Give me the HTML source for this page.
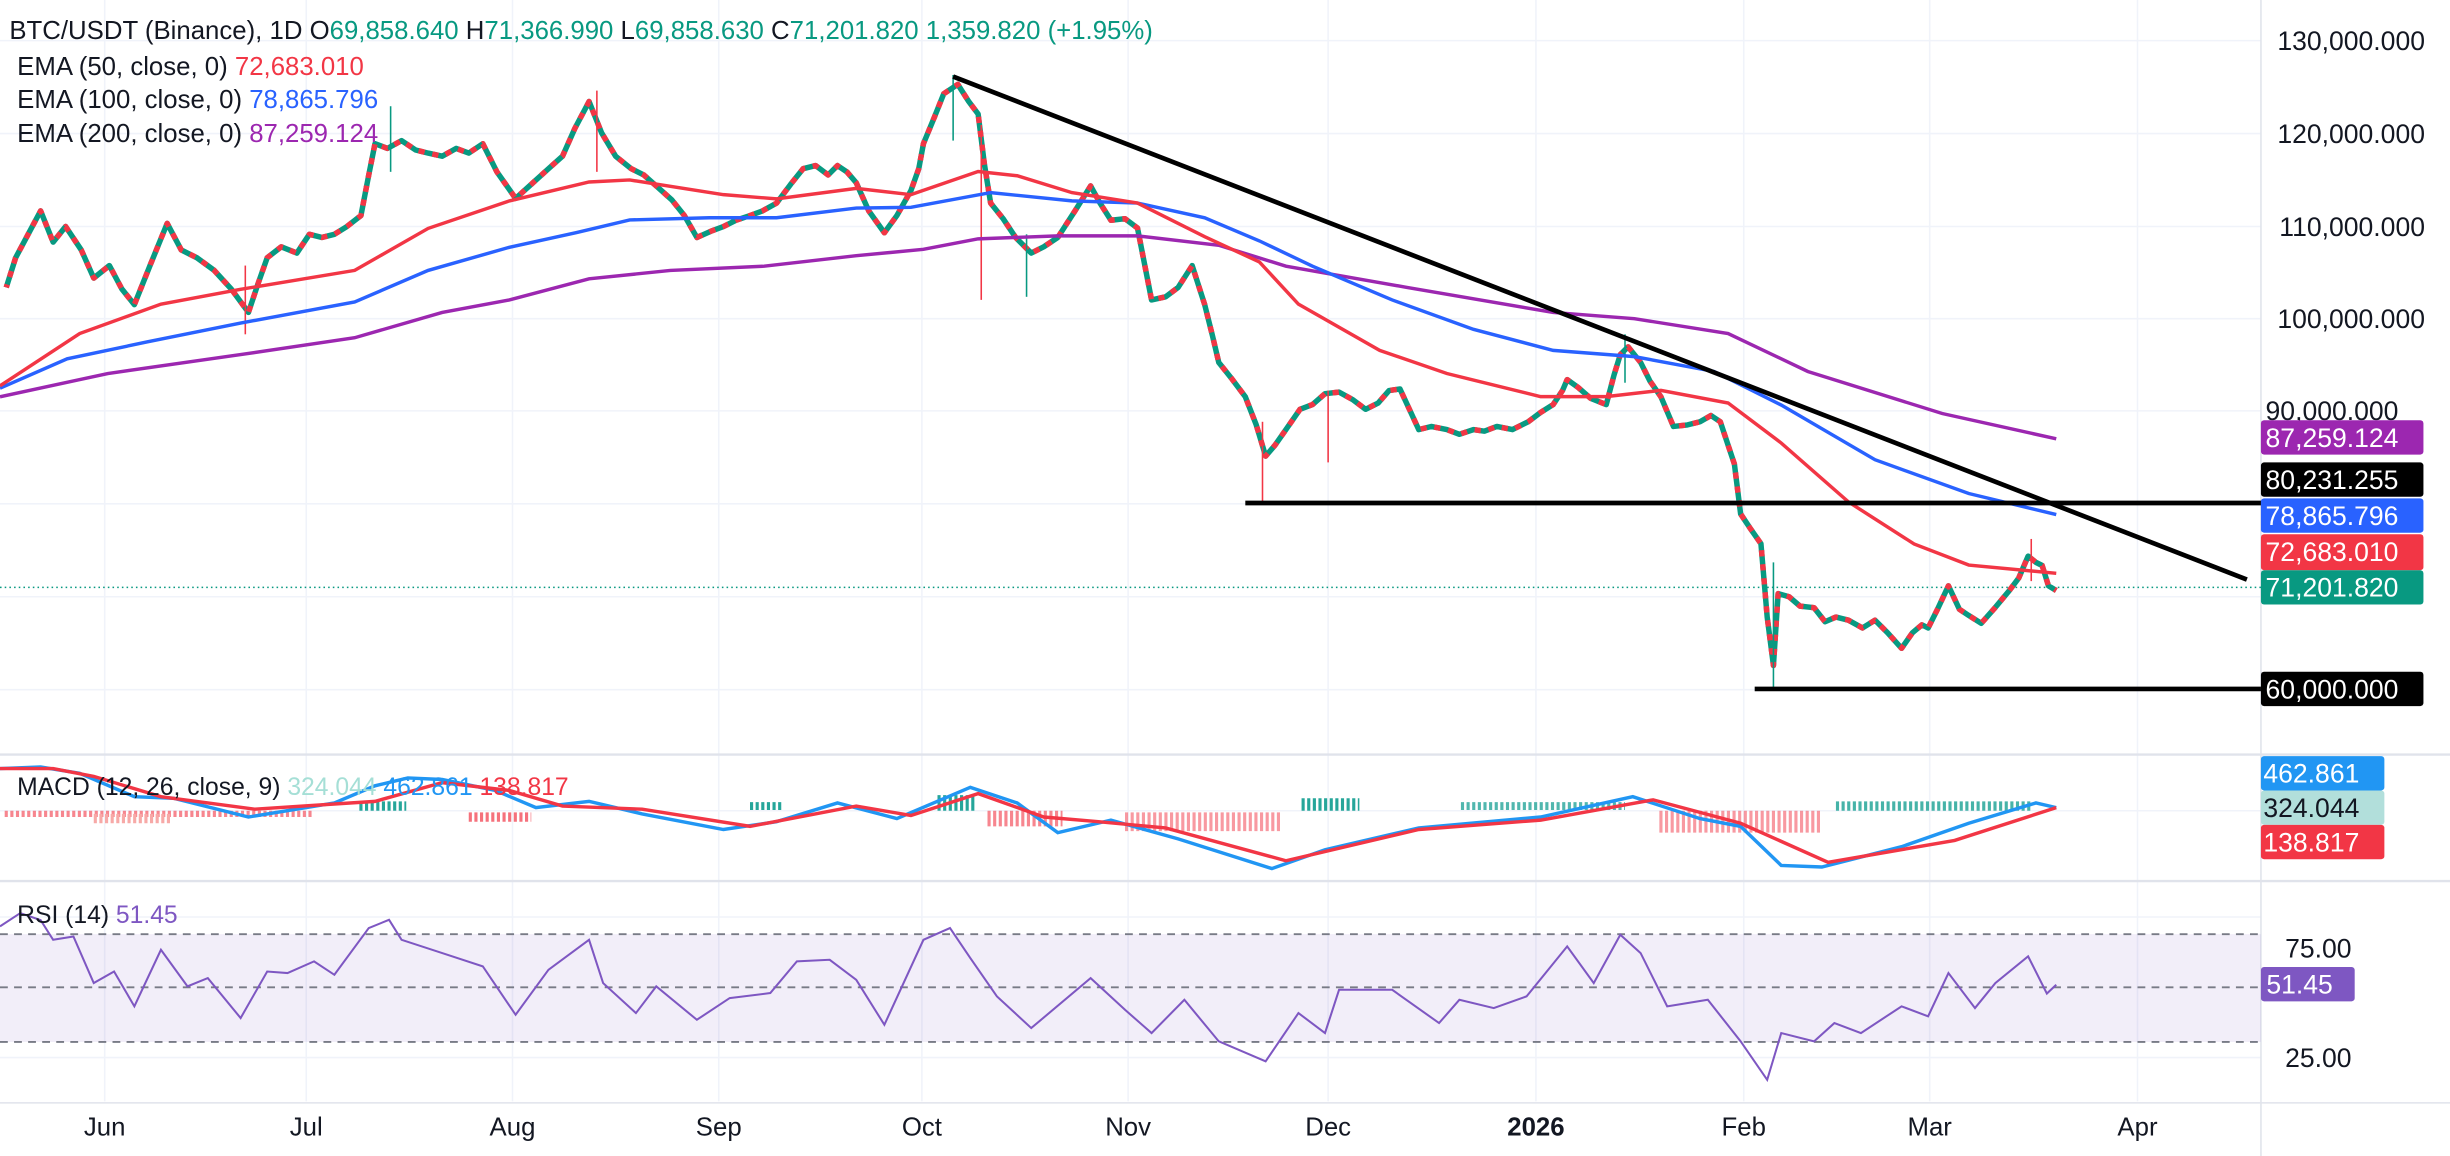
<!DOCTYPE html>
<html><head><meta charset="utf-8"><style>
html,body{margin:0;padding:0;background:#fff;}
svg{display:block;font-family:"Liberation Sans",sans-serif;}
</style></head><body>
<svg width="2450" height="1156" viewBox="0 0 1568 740" preserveAspectRatio="none" xmlns="http://www.w3.org/2000/svg">
<rect width="1568" height="740" fill="#fff"/>
<g stroke="#f0f3fa" stroke-width="1">
<line x1="67" y1="0" x2="67" y2="705"/><line x1="196" y1="0" x2="196" y2="705"/><line x1="328" y1="0" x2="328" y2="705"/><line x1="460" y1="0" x2="460" y2="705"/><line x1="590" y1="0" x2="590" y2="705"/><line x1="722" y1="0" x2="722" y2="705"/><line x1="850" y1="0" x2="850" y2="705"/><line x1="983" y1="0" x2="983" y2="705"/><line x1="1116" y1="0" x2="1116" y2="705"/><line x1="1235" y1="0" x2="1235" y2="705"/><line x1="1368" y1="0" x2="1368" y2="705"/>
<line x1="0" y1="26" x2="1447" y2="26"/><line x1="0" y1="85.5" x2="1447" y2="85.5"/><line x1="0" y1="145" x2="1447" y2="145"/><line x1="0" y1="204" x2="1447" y2="204"/><line x1="0" y1="263" x2="1447" y2="263"/><line x1="0" y1="322.5" x2="1447" y2="322.5"/><line x1="0" y1="382" x2="1447" y2="382"/><line x1="0" y1="441.5" x2="1447" y2="441.5"/>
<line x1="0" y1="519" x2="1447" y2="519"/><line x1="0" y1="587" x2="1447" y2="587"/><line x1="0" y1="677" x2="1447" y2="677"/>
</g>
<line x1="0" y1="483" x2="1568" y2="483" stroke="#e0e3eb" stroke-width="1.5"/>
<line x1="0" y1="564" x2="1568" y2="564" stroke="#e0e3eb" stroke-width="1.5"/>
<line x1="0" y1="706" x2="1568" y2="706" stroke="#e0e3eb"/>
<line x1="1447" y1="0" x2="1447" y2="740" stroke="#e0e3eb"/>
<rect x="0" y="598" width="1447" height="69" fill="#7e57c2" fill-opacity="0.1"/>
<g stroke="#787b86" stroke-dasharray="5,4" stroke-width="1.2">
<line x1="0" y1="598" x2="1447" y2="598"/><line x1="0" y1="632" x2="1447" y2="632"/><line x1="0" y1="667" x2="1447" y2="667"/>
</g>
<line x1="0" y1="376" x2="1447" y2="376" stroke="#089981" stroke-dasharray="1,2"/>

<!-- price approximation -->
<g fill="none" stroke-width="3.5" stroke-linejoin="round">
<path id="pp" d="M4,184 L10,165 L18,150 L26,135 L34,155 L42,145 L52,160 L60,178 L70,170 L78,185 L86,195 L96,170 L107,143 L116,160 L126,165 L137,173 L148,185 L159,200 L165,182 L171,165 L180,158 L190,162 L198,150 L206,152 L214,150 L222,145 L231,138 L236,112 L240,92 L248,95 L257,90 L266,96 L274,98 L283,100 L292,95 L300,98 L309,92 L318,110 L330,127 L340,118 L351,108 L360,100 L368,82 L377,65 L385,85 L394,100 L404,108 L412,112 L420,119 L430,128 L438,138 L446,152 L455,148 L463,145 L471,141 L480,138 L488,135 L497,130 L506,118 L514,108 L522,106 L530,112 L536,106 L542,110 L548,117 L556,135 L566,149 L574,138 L583,122 L588,108 L591,92 L598,75 L604,60 L613,54 L620,65 L626,73 L630,105 L634,130 L642,140 L650,152 L660,162 L668,158 L677,152 L688,135 L698,119 L704,130 L711,141 L720,140 L728,146 L737,192 L746,190 L754,184 L763,170 L771,195 L776,215 L780,232 L788,242 L797,254 L804,272 L810,292 L816,285 L823,275 L832,262 L840,259 L848,252 L857,251 L866,256 L874,262 L882,258 L889,250 L896,249 L902,262 L908,275 L916,273 L926,275 L934,278 L943,275 L950,276 L958,273 L968,275 L978,270 L986,264 L994,259 L1000,250 L1003,243 L1010,248 L1018,255 L1028,259 L1033,240 L1037,227 L1042,222 L1050,232 L1056,244 L1063,254 L1071,273 L1080,272 L1088,270 L1095,266 L1101,270 L1106,285 L1110,297 L1114,329 L1120,338 L1127,348 L1131,395 L1135,426 L1138,380 L1145,382 L1152,388 L1161,389 L1168,398 L1175,395 L1183,397 L1192,402 L1200,397 L1208,405 L1217,415 L1224,405 L1230,400 L1234,402 L1240,390 L1247,375 L1254,390 L1260,394 L1268,399 L1276,390 L1286,378 L1292,370 L1298,356 L1303,360 L1307,362 L1311,375 L1316,378" stroke="#089981"/>
<path d="M4,184 L10,165 L18,150 L26,135 L34,155 L42,145 L52,160 L60,178 L70,170 L78,185 L86,195 L96,170 L107,143 L116,160 L126,165 L137,173 L148,185 L159,200 L165,182 L171,165 L180,158 L190,162 L198,150 L206,152 L214,150 L222,145 L231,138 L236,112 L240,92 L248,95 L257,90 L266,96 L274,98 L283,100 L292,95 L300,98 L309,92 L318,110 L330,127 L340,118 L351,108 L360,100 L368,82 L377,65 L385,85 L394,100 L404,108 L412,112 L420,119 L430,128 L438,138 L446,152 L455,148 L463,145 L471,141 L480,138 L488,135 L497,130 L506,118 L514,108 L522,106 L530,112 L536,106 L542,110 L548,117 L556,135 L566,149 L574,138 L583,122 L588,108 L591,92 L598,75 L604,60 L613,54 L620,65 L626,73 L630,105 L634,130 L642,140 L650,152 L660,162 L668,158 L677,152 L688,135 L698,119 L704,130 L711,141 L720,140 L728,146 L737,192 L746,190 L754,184 L763,170 L771,195 L776,215 L780,232 L788,242 L797,254 L804,272 L810,292 L816,285 L823,275 L832,262 L840,259 L848,252 L857,251 L866,256 L874,262 L882,258 L889,250 L896,249 L902,262 L908,275 L916,273 L926,275 L934,278 L943,275 L950,276 L958,273 L968,275 L978,270 L986,264 L994,259 L1000,250 L1003,243 L1010,248 L1018,255 L1028,259 L1033,240 L1037,227 L1042,222 L1050,232 L1056,244 L1063,254 L1071,273 L1080,272 L1088,270 L1095,266 L1101,270 L1106,285 L1110,297 L1114,329 L1120,338 L1127,348 L1131,395 L1135,426 L1138,380 L1145,382 L1152,388 L1161,389 L1168,398 L1175,395 L1183,397 L1192,402 L1200,397 L1208,405 L1217,415 L1224,405 L1230,400 L1234,402 L1240,390 L1247,375 L1254,390 L1260,394 L1268,399 L1276,390 L1286,378 L1292,370 L1298,356 L1303,360 L1307,362 L1311,375 L1316,378" stroke="#f23645" stroke-dasharray="4,5" stroke-dashoffset="2"/>
</g>
<g stroke-width="1">
<line x1="628" y1="80" x2="628" y2="192" stroke="#f23645"/>
<line x1="1135" y1="360" x2="1135" y2="441" stroke="#089981"/>
<line x1="610" y1="48" x2="610" y2="90" stroke="#089981"/>
<line x1="808" y1="270" x2="808" y2="322" stroke="#f23645"/>
<line x1="157" y1="170" x2="157" y2="214" stroke="#f23645"/>
<line x1="382" y1="58" x2="382" y2="110" stroke="#f23645"/>
<line x1="250" y1="68" x2="250" y2="110" stroke="#089981"/>
<line x1="657" y1="150" x2="657" y2="190" stroke="#089981"/>
<line x1="850" y1="250" x2="850" y2="296" stroke="#f23645"/>
<line x1="1040" y1="214" x2="1040" y2="245" stroke="#089981"/>
<line x1="1300" y1="345" x2="1300" y2="372" stroke="#f23645"/>
</g>

<!-- EMAs -->
<path d="M0,254 L69,239.1 L154,227 L227,216.2 L283,200 L326,192 L377,178.5 L429,173.1 L489,170.4 L548,163.7 L591,159.6 L626,152.9 L677,151 L728,151 L780,157 L823,170.4 L900,183.9 L994,200 L1046,204 L1106,213.5 L1157,237.8 L1243,264.7 L1316,280.9" fill="none" stroke="#9c27b0" stroke-width="2.2"/>
<path d="M0,248.5 L43,229.7 L94,218.9 L154,206.8 L227,193.3 L274,173.1 L326,158.3 L369,148.9 L403,140.8 L454,139.4 L497,139.4 L548,133.2 L583,132.7 L634,123.3 L686,128.6 L728,130 L771,139.4 L806,154.2 L840,170.4 L891,192 L943,210.8 L994,224.3 L1046,228.3 L1097,237.8 L1140,259.3 L1200,294.3 L1260,315.9 L1316,329.4" fill="none" stroke="#2962ff" stroke-width="2.2"/>
<path d="M0,247 L51,213.5 L103,194.7 L154,185.2 L227,173.1 L274,146.2 L326,128.6 L377,116.5 L403,115.2 L463,124.6 L497,127.3 L548,120.6 L583,124.6 L626,109.8 L651,112.5 L686,123.3 L728,130 L771,151.5 L806,167.7 L831,194.7 L883,224.3 L926,239.1 L986,253.9 L1028,253.9 L1063,249.9 L1106,258 L1140,283.6 L1183,321.3 L1225,348.2 L1260,361.7 L1316,367" fill="none" stroke="#f23645" stroke-width="2.2"/>

<g stroke="#000" stroke-width="3">
<line x1="610" y1="49" x2="1438" y2="371"/>
<line x1="797" y1="322" x2="1447" y2="322"/>
<line x1="1123" y1="441" x2="1447" y2="441"/>
</g>

<!-- MACD histogram -->
<g stroke-dasharray="2,1.6">
<path d="M3,521 L200,521" stroke="#f23645" stroke-width="4" opacity="0.6"/>
<path d="M60,524 L110,524" stroke="#f7a9a7" stroke-width="6"/>
<path d="M230,516 L260,516" stroke="#26a69a" stroke-width="6"/>
<path d="M300,523 L340,523" stroke="#f23645" stroke-width="6" opacity="0.7"/>
<path d="M480,516 L500,516" stroke="#26a69a" stroke-width="5"/>
<path d="M600,514 L625,514" stroke="#26a69a" stroke-width="10"/>
<path d="M632,524 L680,524" stroke="#f23645" stroke-width="10" opacity="0.6"/>
<path d="M720,526 L820,526" stroke="#f23645" stroke-width="12" opacity="0.5"/>
<path d="M833,515 L870,515" stroke="#26a69a" stroke-width="8"/>
<path d="M935,516 L1040,516" stroke="#26a69a" stroke-width="5" opacity="0.8"/>
<path d="M1062,526 L1165,526" stroke="#f23645" stroke-width="14" opacity="0.5"/>
<path d="M1175,516 L1300,516" stroke="#26a69a" stroke-width="6" opacity="0.85"/>
</g>
<path d="M0,492 L26,491 L51,495 L86,510 L111,511 L159,523 L214,514 L240,503 L261,498 L283,499 L317,506 L343,517 L377,513 L411,521 L463,531 L497,526 L536,514 L574,524 L621,504 L651,514 L677,533 L711,525 L754,537 L814,556 L848,544 L908,530 L986,523 L1045,510 L1088,524 L1114,529 L1140,554 L1166,555 L1217,542 L1260,527 L1303,514 L1316,517" fill="none" stroke="#2196f3" stroke-width="2.2"/>
<path d="M0,492 L34,492 L60,497 L103,510 L163,518 L240,513 L283,501 L326,506 L360,516 L411,518 L480,529 L548,516 L583,522 L626,508 L668,523 L703,526 L746,530 L823,551 L908,531 L986,525 L1058,512 L1114,527 L1170,552 L1251,538 L1316,517" fill="none" stroke="#f23645" stroke-width="2.2"/>

<!-- RSI -->
<path d="M0,593 L13,584.5 L26,589 L34,601.6 L47,599.5 L60,629.3 L73,621.9 L86,644.2 L103,608 L120,631.4 L133,626.1 L154,651.7 L171,621.9 L184,622.9 L201,615.4 L214,624 L236,594.1 L249,588.8 L257,601.6 L283,610.1 L309,618.6 L330,649.6 L351,620.8 L377,601.6 L386,629.3 L407,648.5 L420,631.4 L446,652.8 L467,638.9 L493,635.7 L510,615.4 L531,614.4 L548,627.2 L566,656 L591,601.6 L608,594.1 L621,613.3 L638,637.8 L660,658.1 L698,626.1 L720,646.4 L737,661.3 L758,640 L780,666.6 L810,679.4 L831,648.5 L848,661.3 L857,633.6 L891,633.6 L921,654.9 L934,640 L956,645.3 L977,637.8 L1003,605.8 L1020,629.3 L1037,598.4 L1050,610.1 L1067,644.2 L1093,640 L1114,666.6 L1131,691.2 L1140,661.3 L1161,666.6 L1174,654.9 L1191,661.3 L1217,644.2 L1234,650.6 L1247,622.9 L1264,645.3 L1277,629.3 L1298,612.2 L1310,636 L1316,630.4" fill="none" stroke="#7e57c2" stroke-width="1.3"/>

<g font-size="16.5" fill="#131722">
<text x="6" y="25">BTC/USDT (Binance), 1D  O<tspan fill="#089981">69,858.640</tspan>  H<tspan fill="#089981">71,366.990</tspan>  L<tspan fill="#089981">69,858.630</tspan>  C<tspan fill="#089981">71,201.820  1,359.820 (+1.95%)</tspan></text>
<text x="11" y="48">EMA (50, close, 0)  <tspan fill="#f23645">72,683.010</tspan></text>
<text x="11" y="69">EMA (100, close, 0)  <tspan fill="#2962ff">78,865.796</tspan></text>
<text x="11" y="91">EMA (200, close, 0)  <tspan fill="#9c27b0">87,259.124</tspan></text>
</g>
<g font-size="15.8" fill="#131722">
<text x="11" y="509">MACD (12, 26, close, 9)  <tspan fill="#a5dfd6">324.044</tspan>  <tspan fill="#2196f3">462.861</tspan>  <tspan fill="#f23645">138.817</tspan></text>
<text x="11" y="591">RSI (14)  <tspan fill="#7e57c2">51.45</tspan></text>
</g>
<g font-size="16.5" fill="#131722" text-anchor="middle">
<text x="67" y="727">Jun</text><text x="196" y="727">Jul</text><text x="328" y="727">Aug</text><text x="460" y="727">Sep</text><text x="590" y="727">Oct</text><text x="722" y="727">Nov</text><text x="850" y="727">Dec</text><text x="983" y="727" font-weight="bold">2026</text><text x="1116" y="727">Feb</text><text x="1235" y="727">Mar</text><text x="1368" y="727">Apr</text>
</g>
<g font-size="17" fill="#131722" text-anchor="end">
<text x="1552" y="32">130,000.000</text><text x="1552" y="91.5">120,000.000</text><text x="1552" y="151">110,000.000</text><text x="1552" y="210">100,000.000</text><text x="1535" y="269">90,000.000</text>
<text x="1505" y="613">75.00</text><text x="1505" y="683">25.00</text>
</g>
<g font-size="17" text-anchor="end" fill="#fff">
<rect x="1447" y="269" width="104" height="22" rx="2" fill="#9c27b0"/><text x="1535" y="286">87,259.124</text>
<rect x="1447" y="296" width="104" height="22" rx="2" fill="#000"/><text x="1535" y="313">80,231.255</text>
<rect x="1447" y="319" width="104" height="22" rx="2" fill="#2962ff"/><text x="1535" y="336">78,865.796</text>
<rect x="1447" y="342" width="104" height="23" rx="2" fill="#f23645"/><text x="1535" y="359">72,683.010</text>
<rect x="1447" y="365" width="104" height="22" rx="2" fill="#089981"/><text x="1535" y="382">71,201.820</text>
<rect x="1447" y="430" width="104" height="22" rx="2" fill="#000"/><text x="1535" y="447">60,000.000</text>
<rect x="1447" y="484" width="79" height="22" rx="2" fill="#2196f3"/><text x="1510" y="501">462.861</text>
<rect x="1447" y="506" width="79" height="22" rx="2" fill="#b2dfdb"/><text x="1510" y="523" fill="#131722">324.044</text>
<rect x="1447" y="528" width="79" height="22" rx="2" fill="#f23645"/><text x="1510" y="545">138.817</text>
<rect x="1447" y="619" width="60" height="22" rx="2" fill="#7e57c2"/><text x="1493" y="636">51.45</text>
</g>
</svg>
</body></html>
